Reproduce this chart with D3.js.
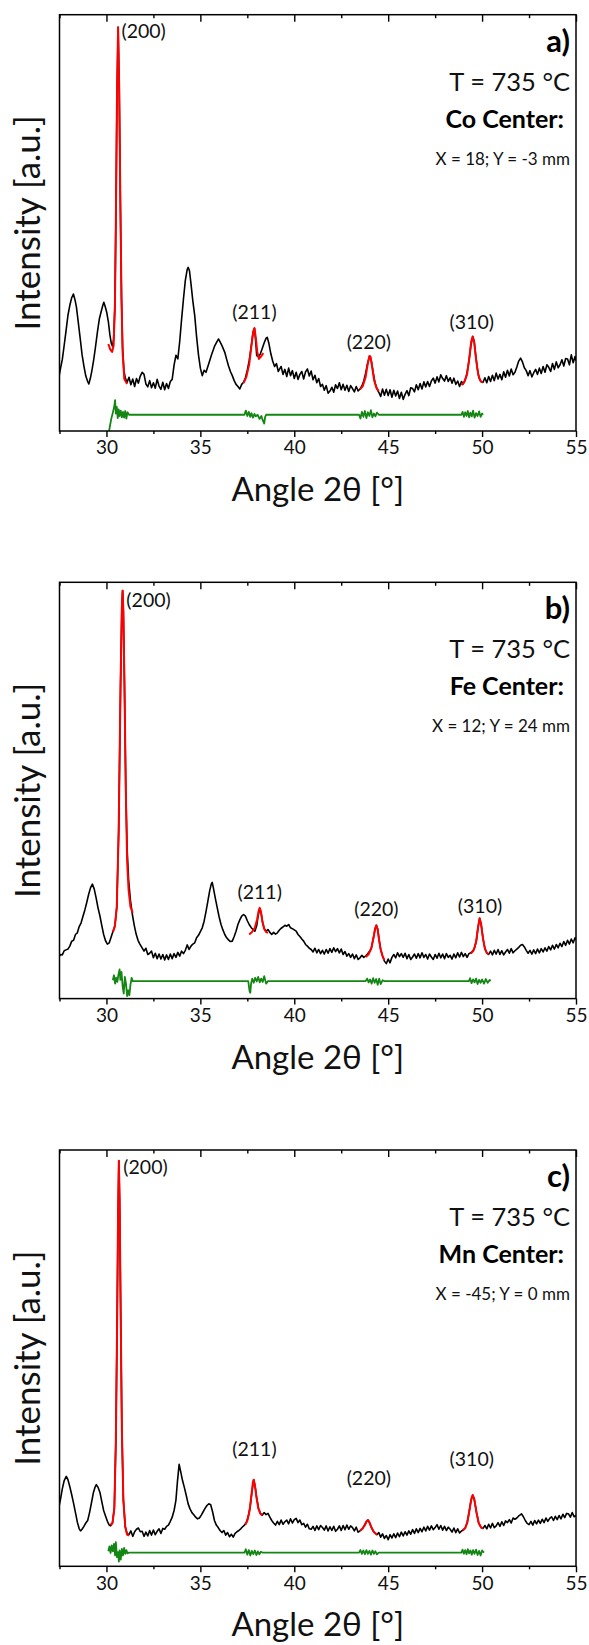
<!DOCTYPE html>
<html>
<head>
<meta charset="utf-8">
<script src="https://cdn.jsdelivr.net/npm/d3@7"></script>
<style>
  body { margin: 0; background: #fff; }
  svg { display: block; font-family: Lato, "Open Sans", sans-serif; }
</style>
</head>
<body>
<div class="chart"></div>
<script>
// x axis ticks
const majorTicks = [30, 35, 40, 45, 50, 55];
const minorTicks = [27.5, 32.5, 37.5, 42.5, 47.5, 52.5];

// panel texts
const panelTags = ["a)", "b)", "c)"];
const panelTemps = ["T = 735 °C", "T = 735 °C", "T = 735 °C"];
const panelCenters = ["Co Center:", "Fe Center:", "Mn Center:"];
const panelCoords = ["X = 18; Y = -3 mm", "X = 12; Y = 24 mm", "X = -45; Y = 0 mm"];

// peak labels [text, angle, intensity, anchor]
const labelsA = [["(200)", 30.8, 94.4, "start"], ["(211)", 37.88, 26.9, "middle"], ["(220)", 43.97, 19.7, "middle"], ["(310)", 49.45, 24.5, "middle"]];
const labelsB = [["(200)", 31.06, 94.1, "start"], ["(211)", 38.16, 23.9, "middle"], ["(220)", 44.37, 19.8, "middle"], ["(310)", 49.89, 20.6, "middle"]];
const labelsC = [["(200)", 30.9, 94.3, "start"], ["(211)", 37.88, 26.4, "middle"], ["(220)", 43.97, 19.6, "middle"], ["(310)", 49.45, 24.1, "middle"]];

// measured pattern, panel a (Co center)
const obsA = [[27.45,12.5],[27.55,14.9],[27.65,17.2],[27.75,20.6],[27.85,24.1],[27.95,27.8],[28.05,30.2],[28.15,32.0],[28.24,32.9],[28.32,31.6],[28.4,29.8],[28.5,26.1],[28.6,22.3],[28.7,18.4],[28.8,15.6],[28.9,13.2],[29.0,11.9],[29.06,11.3],[29.14,12.6],[29.22,14.4],[29.32,17.1],[29.42,20.3],[29.52,23.8],[29.62,26.9],[29.72,28.7],[29.8,30.1],[29.86,30.9],[29.94,29.8],[30.02,28.4],[30.1,26.3],[30.18,23.2],[30.26,21.0],[30.32,20.4],[30.38,22.0],[30.45,30],[30.5,50],[30.56,80],[30.62,97],[30.68,82],[30.74,55],[30.8,32],[30.86,20],[30.93,14.5],[31.0,12.8],[31.1,11.7],[31.2,12.9],[31.3,11.1],[31.4,12.5],[31.5,10.7],[31.6,12.6],[31.7,11.5],[31.8,13.2],[31.9,14.1],[32.0,13.6],[32.1,11.3],[32.2,10.6],[32.3,12.1],[32.4,10.4],[32.5,11.6],[32.6,10.3],[32.7,12.4],[32.8,10.8],[32.9,10.0],[33.0,11.7],[33.1,9.9],[33.2,11.4],[33.3,10.2],[33.4,11.9],[33.5,12.4],[33.6,15.8],[33.7,18.2],[33.8,17.3],[33.9,21.5],[34.0,26.8],[34.1,31.7],[34.2,36.2],[34.3,38.8],[34.35,39.3],[34.42,38.5],[34.5,35.4],[34.6,31.2],[34.7,27.7],[34.8,22.6],[34.9,18.3],[35.0,15.1],[35.1,13.3],[35.2,14.6],[35.3,14.1],[35.45,16.2],[35.6,18.4],[35.75,20.3],[35.9,21.6],[35.97,22.1],[36.05,21.4],[36.15,20.5],[36.3,18.9],[36.4,17.2],[36.5,15.6],[36.6,14.3],[36.7,13.3],[36.8,12.1],[36.9,11.2],[37.0,10.7],[37.1,10.1],[37.2,11.2],[37.3,11.7],[37.4,12.8],[37.5,14.6],[37.6,16.9],[37.7,20.1],[37.8,23.6],[37.88,24.7],[37.95,21.3],[38.0,18.1],[38.1,17.8],[38.2,18.6],[38.3,19.9],[38.4,21.2],[38.5,22.3],[38.56,22.5],[38.65,21.0],[38.75,18.6],[38.85,16.8],[38.95,15.5],[39.05,16.2],[39.15,14.3],[39.3,15.5],[39.4,13.6],[39.5,14.8],[39.6,13.1],[39.7,15.1],[39.8,13.3],[39.9,14.5],[40.0,12.6],[40.1,14.1],[40.2,12.4],[40.3,13.6],[40.4,14.3],[40.5,12.5],[40.6,14.2],[40.7,14.9],[40.8,13.2],[40.9,14.4],[41.0,12.3],[41.1,13.4],[41.2,11.6],[41.3,12.6],[41.4,10.7],[41.5,11.2],[41.6,9.8],[41.7,10.9],[41.8,9.1],[41.9,9.6],[42.0,10.5],[42.1,9.3],[42.2,11.1],[42.3,10.2],[42.4,11.6],[42.5,9.9],[42.6,11.2],[42.7,9.8],[42.8,11.0],[42.9,9.5],[43.0,10.9],[43.1,10.2],[43.2,9.4],[43.3,10.7],[43.4,9.6],[43.5,10.1],[43.6,10.8],[43.7,12.0],[43.8,13.9],[43.9,16.2],[44.0,17.8],[44.03,18.0],[44.1,16.9],[44.2,14.1],[44.3,11.6],[44.4,10.2],[44.5,9.3],[44.6,8.3],[44.7,10.1],[44.8,8.6],[44.9,10.0],[45.0,8.5],[45.1,9.9],[45.2,8.1],[45.3,9.8],[45.4,8.4],[45.5,9.6],[45.6,7.8],[45.7,9.3],[45.8,7.6],[45.9,8.8],[46.0,9.7],[46.1,8.5],[46.2,10.4],[46.3,10.2],[46.4,9.4],[46.5,11.1],[46.6,9.9],[46.7,11.4],[46.8,10.1],[46.9,11.8],[47.0,10.6],[47.1,11.9],[47.2,10.7],[47.3,12.0],[47.4,12.7],[47.5,11.5],[47.6,13.0],[47.7,11.8],[47.8,13.5],[47.9,12.6],[48.0,12.0],[48.1,13.3],[48.2,11.9],[48.3,12.8],[48.4,11.5],[48.5,12.7],[48.6,11.2],[48.7,12.0],[48.8,10.7],[48.9,11.9],[49.0,11.3],[49.1,12.2],[49.2,14.0],[49.3,16.8],[49.4,20.4],[49.5,22.7],[49.58,21.5],[49.66,18.2],[49.75,14.9],[49.85,12.6],[49.95,11.8],[50.05,11.7],[50.15,12.8],[50.25,11.6],[50.35,13.1],[50.45,11.9],[50.55,13.4],[50.65,12.1],[50.75,13.9],[50.85,12.5],[50.95,13.6],[51.05,12.3],[51.15,14.2],[51.25,12.9],[51.35,14.6],[51.45,13.2],[51.55,14.9],[51.65,13.5],[51.75,14.1],[51.85,15.4],[51.95,16.8],[52.05,17.5],[52.15,16.6],[52.25,15.2],[52.35,14.5],[52.45,13.3],[52.55,14.5],[52.65,13.0],[52.75,14.0],[52.85,14.8],[52.95,13.6],[53.05,15.1],[53.15,13.8],[53.25,15.5],[53.35,14.1],[53.45,15.9],[53.55,15.3],[53.65,14.3],[53.75,16.2],[53.85,14.8],[53.95,16.6],[54.05,15.2],[54.15,15.9],[54.25,17.1],[54.35,15.6],[54.45,17.4],[54.55,17.3],[54.65,15.9],[54.75,18.3],[54.85,16.4],[54.95,17.9],[55.0,16.9]];

// fitted peaks, panel a
const fitA = [
  [[30.1,20.9],[30.2,19.6],[30.3,19.0],[30.38,20.5],[30.45,30],[30.5,50],[30.56,80],[30.62,97],[30.68,82],[30.74,55],[30.8,32],[30.86,19],[30.95,12.5],[31.1,11.3]],
  [[37.3,11.5],[37.45,13.0],[37.6,16.0],[37.72,20.5],[37.82,24.0],[37.88,24.7],[37.95,22.5],[38.03,19.0],[38.12,17.3],[38.25,18.0],[38.35,18.7]],
  [[43.5,10.0],[43.65,10.8],[43.8,13.0],[43.92,16.3],[44.0,18.0],[44.06,17.8],[44.14,15.6],[44.25,12.2],[44.38,10.3],[44.5,9.6]],
  [[48.9,11.0],[49.05,11.8],[49.2,13.6],[49.32,17.5],[49.42,21.5],[49.5,22.7],[49.58,21.3],[49.68,17.2],[49.8,13.4],[49.92,12.0],[50.05,11.6]]
];

// residual, panel a
const resA = [[30.14,0],[30.25,2.8],[30.35,4.6],[30.42,6.0],[30.46,7.4],[30.5,4.2],[30.55,5.8],[30.6,3.1],[30.65,5.2],[30.7,3.6],[30.76,4.9],[30.82,3.3],[30.88,4.6],[30.94,3.2],[31.0,4.8],[31.06,3.0],[31.12,4.5],[31.2,3.9],[37.35,3.9],[37.42,4.9],[37.5,3.6],[37.58,4.6],[37.65,3.4],[37.72,4.3],[37.8,3.2],[37.88,4.1],[37.95,3.5],[38.05,3.9],[38.15,2.9],[38.25,3.6],[38.32,2.6],[38.4,1.8],[38.45,3.4],[38.5,3.9],[43.45,3.9],[43.52,3.0],[43.6,4.6],[43.68,3.4],[43.76,4.8],[43.84,3.1],[43.92,4.5],[44.0,3.6],[44.08,5.0],[44.16,3.3],[44.24,4.2],[44.32,3.5],[44.4,4.4],[44.5,3.9],[48.9,3.9],[48.96,4.6],[49.03,3.4],[49.1,4.5],[49.17,3.6],[49.24,4.8],[49.31,3.3],[49.38,4.4],[49.45,3.5],[49.52,4.9],[49.6,3.2],[49.68,4.3],[49.76,3.6],[49.84,4.7],[49.92,3.4],[50.0,4.2],[50.05,3.9]];

// measured pattern, panel b (Fe center)
const obsB = [[27.45,9.8],[27.55,10.6],[27.65,10.5],[27.75,11.5],[27.85,11.7],[27.95,11.9],[28.05,12.6],[28.15,13.8],[28.25,14.0],[28.35,15.4],[28.45,15.8],[28.55,17.3],[28.65,18.2],[28.75,19.8],[28.85,21.3],[28.95,23.1],[29.05,25.0],[29.15,26.6],[29.25,27.5],[29.35,26.3],[29.45,24.2],[29.55,21.8],[29.65,19.9],[29.75,17.6],[29.85,15.4],[29.95,13.9],[30.05,13.1],[30.15,13.4],[30.25,14.8],[30.35,16.2],[30.45,17.5],[30.55,22],[30.65,40],[30.75,75],[30.82,94],[30.86,98],[30.9,93],[30.96,75],[31.03,50],[31.1,36],[31.18,28.5],[31.28,23.5],[31.38,20.2],[31.48,17.6],[31.58,15.5],[31.68,14.0],[31.78,13.1],[31.9,12.2],[32.0,11.4],[32.1,12.1],[32.2,10.6],[32.3,10.9],[32.4,11.4],[32.5,9.8],[32.6,10.9],[32.7,9.6],[32.8,10.7],[32.9,9.5],[33.0,10.6],[33.1,9.3],[33.2,10.5],[33.3,9.4],[33.4,10.7],[33.5,9.6],[33.6,10.8],[33.7,9.9],[33.8,11.1],[33.9,10.2],[34.0,11.4],[34.1,10.8],[34.2,11.6],[34.3,12.9],[34.4,11.8],[34.5,12.6],[34.6,13.1],[34.7,13.4],[34.8,14.6],[34.9,15.2],[35.0,16.1],[35.1,17.0],[35.2,18.6],[35.3,20.9],[35.4,23.4],[35.5,26.0],[35.58,27.5],[35.63,27.9],[35.7,26.4],[35.8,24.0],[35.9,21.8],[36.0,19.6],[36.1,17.8],[36.2,16.5],[36.3,15.4],[36.4,14.6],[36.5,14.1],[36.6,13.7],[36.7,13.8],[36.8,14.9],[36.9,16.2],[37.0,17.8],[37.1,18.9],[37.2,19.8],[37.3,20.2],[37.4,19.8],[37.5,18.7],[37.6,17.8],[37.7,17.1],[37.8,16.6],[37.9,16.2],[38.0,17.5],[38.08,20.0],[38.16,21.6],[38.24,20.4],[38.32,18.2],[38.4,16.8],[38.5,16.2],[38.6,16.6],[38.7,15.9],[38.8,15.4],[38.9,15.9],[39.0,15.5],[39.1,15.8],[39.2,16.4],[39.3,16.9],[39.4,17.2],[39.5,17.6],[39.6,17.4],[39.7,17.8],[39.8,17.0],[39.9,16.8],[40.0,16.5],[40.1,16.2],[40.2,15.4],[40.3,14.9],[40.4,14.3],[40.5,13.8],[40.6,13.0],[40.7,12.6],[40.8,12.1],[40.9,11.8],[41.0,11.2],[41.1,12.1],[41.2,11.0],[41.3,11.8],[41.4,10.8],[41.5,11.6],[41.6,10.7],[41.7,11.8],[41.8,10.9],[41.9,12.0],[42.0,11.1],[42.1,12.2],[42.2,11.3],[42.3,12.0],[42.4,11.0],[42.5,11.9],[42.6,10.6],[42.7,11.3],[42.8,10.2],[42.9,10.8],[43.0,9.9],[43.1,10.7],[43.2,9.6],[43.3,10.5],[43.4,9.4],[43.5,9.8],[43.6,10.4],[43.7,9.9],[43.8,10.2],[43.9,10.7],[44.0,11.3],[44.1,12.1],[44.2,14.3],[44.3,16.6],[44.37,17.6],[44.44,16.7],[44.52,14.0],[44.6,11.8],[44.7,10.3],[44.8,9.0],[44.9,8.4],[45.0,9.5],[45.1,8.6],[45.2,9.9],[45.3,10.6],[45.4,9.8],[45.5,11.0],[45.6,10.1],[45.7,10.8],[45.8,9.9],[45.9,10.9],[46.0,9.6],[46.1,10.6],[46.2,9.4],[46.3,10.0],[46.4,10.7],[46.5,9.7],[46.6,10.8],[46.7,9.8],[46.8,11.0],[46.9,9.9],[47.0,10.6],[47.1,9.5],[47.2,10.7],[47.3,10.0],[47.4,9.4],[47.5,10.6],[47.6,9.7],[47.7,10.9],[47.8,9.8],[47.9,10.7],[48.0,9.6],[48.1,10.8],[48.2,9.9],[48.3,10.4],[48.4,9.5],[48.5,10.7],[48.6,9.8],[48.7,11.0],[48.8,10.0],[48.9,11.1],[49.0,10.1],[49.1,10.8],[49.2,9.9],[49.3,10.8],[49.4,11.0],[49.5,11.4],[49.6,12.2],[49.7,14.0],[49.78,17.0],[49.87,19.3],[49.95,17.8],[50.05,14.4],[50.15,12.0],[50.25,11.0],[50.35,10.6],[50.45,11.4],[50.55,10.5],[50.65,11.6],[50.75,10.7],[50.85,11.8],[50.95,10.6],[51.05,11.5],[51.15,10.5],[51.25,11.2],[51.35,11.8],[51.45,10.9],[51.55,12.0],[51.65,11.0],[51.75,11.5],[51.85,11.9],[51.95,12.3],[52.05,12.8],[52.15,13.0],[52.25,12.4],[52.35,11.6],[52.45,10.9],[52.55,11.6],[52.65,10.7],[52.75,11.7],[52.85,10.8],[52.95,11.9],[53.05,11.0],[53.15,12.0],[53.25,11.2],[53.35,12.2],[53.45,11.4],[53.55,12.5],[53.65,11.7],[53.75,12.8],[53.85,11.9],[53.95,13.0],[54.05,12.2],[54.15,13.3],[54.25,12.5],[54.35,13.7],[54.45,12.8],[54.55,14.0],[54.65,13.1],[54.75,14.3],[54.85,13.4],[54.95,14.6],[55.0,14.2]];

const fitB = [
  [[30.35,16.0],[30.45,17.4],[30.55,22],[30.65,40],[30.75,75],[30.82,94],[30.86,98],[30.9,93],[30.96,75],[31.03,50],[31.1,33],[31.18,26],[31.28,22],[31.4,20.6]],
  [[37.6,15.4],[37.75,16.0],[37.9,17.0],[38.02,19.0],[38.1,21.0],[38.16,21.8],[38.22,21.0],[38.3,18.6],[38.4,16.8],[38.5,16.0],[38.6,15.8]],
  [[43.8,10.0],[43.95,10.6],[44.1,12.0],[44.22,14.6],[44.3,16.8],[44.37,17.6],[44.44,16.6],[44.52,14.0],[44.6,11.8],[44.7,10.2],[44.8,9.2]],
  [[49.4,10.8],[49.55,11.6],[49.68,13.6],[49.78,17.0],[49.87,19.3],[49.95,17.8],[50.05,14.4],[50.15,12.0],[50.25,11.0],[50.35,10.6]]
];

const resB = [[30.34,4.4],[30.4,5.6],[30.46,3.6],[30.52,5.0],[30.58,4.0],[30.64,5.8],[30.7,7.0],[30.74,4.5],[30.8,6.4],[30.86,3.0],[30.92,1.2],[30.98,5.2],[31.04,3.6],[31.1,0.6],[31.16,2.0],[31.22,0.8],[31.28,3.4],[31.34,5.0],[31.4,4.2],[37.55,4.2],[37.62,1.8],[37.66,1.4],[37.7,3.6],[37.76,4.8],[37.84,3.8],[37.92,5.0],[38.0,4.1],[38.08,5.2],[38.16,3.9],[38.24,4.8],[38.32,4.0],[38.4,5.4],[38.5,3.6],[38.6,4.2],[43.8,4.2],[43.88,4.8],[43.96,3.9],[44.04,4.6],[44.12,3.6],[44.2,4.9],[44.28,3.8],[44.36,4.7],[44.44,3.3],[44.52,4.8],[44.6,3.5],[44.7,4.4],[44.8,4.2],[49.3,4.2],[49.36,4.9],[49.44,3.7],[49.52,4.6],[49.6,3.9],[49.68,4.8],[49.76,3.5],[49.84,4.5],[49.92,3.8],[50.0,4.6],[50.1,3.6],[50.2,4.7],[50.3,3.8],[50.4,4.5],[50.45,4.2]];

// measured pattern, panel c (Mn center)
const obsC = [[27.45,13.8],[27.55,16.0],[27.65,18.6],[27.75,20.6],[27.86,21.6],[27.95,20.8],[28.05,19.1],[28.15,17.2],[28.25,15.1],[28.35,12.9],[28.45,10.6],[28.55,9.0],[28.62,8.5],[28.7,8.9],[28.8,9.6],[28.9,10.4],[29.0,11.0],[29.1,12.9],[29.2,15.2],[29.3,17.6],[29.4,19.1],[29.46,19.6],[29.55,19.0],[29.65,17.8],[29.75,15.6],[29.85,13.4],[29.95,12.1],[30.05,10.8],[30.15,9.9],[30.22,9.7],[30.32,10.4],[30.42,14],[30.5,30],[30.56,55],[30.62,85],[30.66,97.4],[30.7,88],[30.76,60],[30.82,33],[30.9,16],[31.0,9.5],[31.1,7.8],[31.2,7.6],[31.3,8.5],[31.4,7.2],[31.5,8.3],[31.6,8.9],[31.7,9.2],[31.8,8.3],[31.9,8.4],[32.0,7.2],[32.1,8.2],[32.2,7.3],[32.3,8.6],[32.4,7.5],[32.5,8.7],[32.6,7.6],[32.7,8.4],[32.8,9.0],[32.9,7.9],[33.0,9.1],[33.1,8.9],[33.2,9.6],[33.3,9.9],[33.4,10.8],[33.5,11.8],[33.6,13.4],[33.7,15.9],[33.78,20.4],[33.87,24.5],[33.95,22.8],[34.05,20.6],[34.15,18.9],[34.25,17.0],[34.35,15.0],[34.45,13.8],[34.55,12.9],[34.65,12.4],[34.75,11.8],[34.85,11.4],[34.95,11.6],[35.05,12.3],[35.15,13.1],[35.25,13.9],[35.35,14.6],[35.45,15.0],[35.55,14.8],[35.65,13.1],[35.75,11.0],[35.85,9.9],[35.95,9.3],[36.05,8.6],[36.15,8.1],[36.25,8.6],[36.35,7.5],[36.45,8.1],[36.55,7.1],[36.65,7.7],[36.75,7.0],[36.85,7.9],[36.95,8.3],[37.05,8.6],[37.15,9.0],[37.25,9.5],[37.35,9.9],[37.45,10.5],[37.55,12.0],[37.65,14.2],[37.75,18.0],[37.84,20.8],[37.92,19.0],[38.0,16.4],[38.1,13.9],[38.2,12.7],[38.3,12.3],[38.4,12.9],[38.5,12.4],[38.6,12.7],[38.7,11.8],[38.8,11.0],[38.9,10.4],[39.0,9.9],[39.1,10.8],[39.2,10.0],[39.3,11.1],[39.4,10.1],[39.5,10.7],[39.6,11.1],[39.7,10.2],[39.8,11.4],[39.9,10.4],[40.0,11.2],[40.1,11.5],[40.2,10.5],[40.3,11.1],[40.4,10.0],[40.5,10.3],[40.6,9.4],[40.7,10.1],[40.8,9.0],[40.9,8.9],[41.0,9.6],[41.1,8.6],[41.2,9.7],[41.3,8.8],[41.4,9.8],[41.5,9.3],[41.6,8.7],[41.7,9.7],[41.8,8.5],[41.9,9.5],[42.0,8.6],[42.1,9.6],[42.2,8.4],[42.3,8.9],[42.4,9.7],[42.5,8.6],[42.6,9.8],[42.7,8.8],[42.8,9.9],[42.9,8.9],[43.0,9.7],[43.1,9.3],[43.2,8.5],[43.3,9.4],[43.4,8.2],[43.5,8.5],[43.6,8.9],[43.7,9.6],[43.8,10.4],[43.88,11.0],[43.93,11.1],[44.0,10.5],[44.1,9.4],[44.2,8.5],[44.3,8.0],[44.4,7.6],[44.5,8.1],[44.6,7.0],[44.7,7.8],[44.8,6.7],[44.9,7.4],[45.0,6.4],[45.1,7.6],[45.2,6.8],[45.3,7.8],[45.4,6.9],[45.5,8.0],[45.6,7.1],[45.7,8.2],[45.8,7.3],[45.9,8.3],[46.0,7.5],[46.1,8.5],[46.2,7.7],[46.3,8.8],[46.4,7.9],[46.5,9.0],[46.6,8.1],[46.7,9.1],[46.8,8.3],[46.9,9.4],[47.0,8.5],[47.1,9.6],[47.2,8.7],[47.3,9.7],[47.4,8.8],[47.5,9.3],[47.6,10.0],[47.7,8.9],[47.8,9.8],[47.9,8.7],[48.0,9.6],[48.1,8.6],[48.2,9.4],[48.3,8.9],[48.4,8.2],[48.5,9.2],[48.6,8.1],[48.7,9.0],[48.8,8.0],[48.9,8.5],[49.0,8.7],[49.1,9.2],[49.2,10.4],[49.3,12.8],[49.4,15.6],[49.5,17.1],[49.58,16.2],[49.7,13.0],[49.82,10.4],[49.95,9.3],[50.05,9.1],[50.15,9.8],[50.25,9.0],[50.35,10.1],[50.45,9.2],[50.55,10.3],[50.65,9.3],[50.75,9.7],[50.85,10.5],[50.95,9.6],[51.05,10.7],[51.15,9.8],[51.25,10.9],[51.35,10.5],[51.45,11.2],[51.55,10.4],[51.65,11.6],[51.75,11.3],[51.85,11.6],[51.95,12.1],[52.05,12.4],[52.1,12.6],[52.2,11.9],[52.3,11.0],[52.4,10.3],[52.5,10.0],[52.6,10.8],[52.7,9.9],[52.8,11.0],[52.9,10.2],[53.0,11.1],[53.1,10.3],[53.2,11.3],[53.3,10.5],[53.4,11.6],[53.5,10.8],[53.6,11.5],[53.7,11.9],[53.8,11.0],[53.9,12.0],[54.0,11.2],[54.1,12.2],[54.2,11.4],[54.3,12.5],[54.4,11.7],[54.5,12.7],[54.6,12.6],[54.7,11.8],[54.8,12.9],[54.9,11.9],[55.0,12.2]];

const fitC = [
  [[30.2,9.9],[30.32,10.4],[30.42,14],[30.5,30],[30.56,55],[30.62,85],[30.66,97.4],[30.7,88],[30.76,60],[30.82,33],[30.9,16],[31.0,9.5],[31.1,7.6],[31.2,7.4]],
  [[37.4,10.0],[37.52,11.2],[37.62,13.4],[37.72,17.2],[37.8,20.2],[37.84,20.8],[37.9,19.6],[37.98,16.8],[38.08,14.0],[38.2,12.6],[38.3,12.2]],
  [[43.5,8.6],[43.62,9.0],[43.75,9.8],[43.85,10.8],[43.93,11.1],[44.02,10.4],[44.12,9.2],[44.25,8.2],[44.4,7.6]],
  [[48.96,8.6],[49.1,9.2],[49.22,10.6],[49.34,13.8],[49.44,16.5],[49.5,17.1],[49.58,16.2],[49.7,13.0],[49.82,10.4],[49.95,9.3],[50.05,9.1]]
];

const resC = [[30.1,3.6],[30.16,4.8],[30.22,3.2],[30.28,5.0],[30.34,3.6],[30.4,5.4],[30.46,2.6],[30.5,5.8],[30.56,2.2],[30.62,3.4],[30.66,1.1],[30.7,3.8],[30.76,1.6],[30.82,4.2],[30.88,2.6],[30.94,4.4],[31.0,3.0],[31.06,3.9],[31.12,3.1],[31.2,3.3],[37.35,3.3],[37.42,4.1],[37.5,2.8],[37.58,3.9],[37.66,2.6],[37.74,3.7],[37.82,2.9],[37.9,3.8],[37.98,2.7],[38.06,3.6],[38.14,2.9],[38.22,3.5],[38.3,3.3],[43.45,3.3],[43.52,3.9],[43.6,3.0],[43.68,3.8],[43.76,2.9],[43.84,3.9],[43.92,3.0],[44.0,3.7],[44.08,2.8],[44.16,3.8],[44.24,3.0],[44.32,3.6],[44.4,2.9],[44.5,3.3],[48.9,3.3],[48.96,4.0],[49.03,3.0],[49.1,3.9],[49.17,2.9],[49.24,4.1],[49.31,3.1],[49.38,3.8],[49.45,2.8],[49.52,3.9],[49.6,3.0],[49.68,4.0],[49.76,2.7],[49.84,3.7],[49.92,2.6],[50.0,3.8],[50.1,3.3]];

const panels = [
  { obs: obsA, fit: fitA, res: resA, labels: labelsA, top: 14.7 },
  { obs: obsB, fit: fitB, res: resB, labels: labelsB, top: 582.3 },
  { obs: obsC, fit: fitC, res: resC, labels: labelsC, top: 1150 }
];

const width = 589, height = 1645;
const left = 59.5, right = 576, ph = 416.3;

const svg = d3.select(".chart").append("svg")
  .attr("width", width)
  .attr("height", height);

const x = d3.scaleLinear().domain([27.5, 55]).range([left, right]);

panels.forEach((p, i) => {
  const bottom = p.top + ph;
  const y = d3.scaleLinear().domain([0, 100]).range([bottom, p.top]);
  const g = svg.append("g");

  const line = d3.line().x(d => x(d[0])).y(d => y(d[1]));

  // clip so nothing leaves the frame
  g.append("clipPath").attr("id", "clip" + i)
    .append("rect").attr("x", left).attr("y", p.top).attr("width", right - left).attr("height", ph);
  const plot = g.append("g").attr("clip-path", `url(#clip${i})`);

  plot.append("path")
    .datum(p.res)
    .attr("fill", "none")
    .attr("stroke", "#138613")
    .attr("stroke-width", 1.8)
    .attr("stroke-linejoin", "round")
    .attr("d", line);

  plot.append("path")
    .datum(p.obs)
    .attr("fill", "none")
    .attr("stroke", "#000")
    .attr("stroke-width", 1.6)
    .attr("stroke-linejoin", "round")
    .attr("d", line);

  plot.selectAll(".fit")
    .data(p.fit)
    .join("path")
    .attr("class", "fit")
    .attr("fill", "none")
    .attr("stroke", "#ff0000")
    .attr("stroke-width", 2)
    .attr("stroke-linejoin", "round")
    .attr("d", line);

  // axes
  const axB = g.append("g").attr("transform", `translate(0,${bottom})`)
    .call(d3.axisBottom(x).tickValues(majorTicks).tickSize(6).tickPadding(4).tickFormat(d3.format("d")));
  const axBm = g.append("g").attr("transform", `translate(0,${bottom})`)
    .call(d3.axisBottom(x).tickValues(minorTicks).tickSize(3).tickFormat(""));
  const axT = g.append("g").attr("transform", `translate(0,${p.top})`)
    .call(d3.axisTop(x).tickValues(majorTicks).tickSize(-7).tickFormat(""));
  const axTm = g.append("g").attr("transform", `translate(0,${p.top})`)
    .call(d3.axisTop(x).tickValues(minorTicks).tickSize(-3.5).tickFormat(""));
  [axB, axBm, axT, axTm].forEach(a => {
    a.select(".domain").remove();
    a.selectAll("line").attr("stroke", "#000").attr("stroke-width", 1.4);
  });
  axB.selectAll("text")
    .attr("font-family", "Lato, 'Open Sans', sans-serif")
    .attr("font-size", 19)
    .attr("fill", "#111");

  g.append("rect")
    .attr("x", left).attr("y", p.top)
    .attr("width", right - left).attr("height", ph)
    .attr("fill", "none")
    .attr("stroke", "#000")
    .attr("stroke-width", 1.5);

  // axis titles
  g.append("text")
    .attr("x", (left + right) / 2)
    .attr("y", bottom + 70)
    .attr("text-anchor", "middle")
    .attr("font-size", 33)
    .attr("fill", "#111")
    .text("Angle 2θ [°]");

  g.append("text")
    .attr("transform", `translate(40,${(p.top + bottom) / 2}) rotate(-90)`)
    .attr("text-anchor", "middle")
    .attr("font-size", 35)
    .attr("fill", "#111")
    .text("Intensity [a.u.]");

  // peak labels
  g.selectAll(".hkl")
    .data(p.labels)
    .join("text")
    .attr("class", "hkl")
    .attr("x", d => x(d[1]))
    .attr("y", d => y(d[2]))
    .attr("text-anchor", d => d[3])
    .attr("font-size", 19.5)
    .attr("fill", "#111")
    .text(d => d[0]);

  // corner texts
  g.append("text").attr("x", 570).attr("y", p.top + 37)
    .attr("text-anchor", "end").attr("font-size", 31).attr("font-weight", "bold")
    .text(panelTags[i]);
  g.append("text").attr("x", 570).attr("y", p.top + 76)
    .attr("text-anchor", "end").attr("font-size", 25.5).attr("fill", "#111")
    .text(panelTemps[i]);
  g.append("text").attr("x", 564).attr("y", p.top + 113)
    .attr("text-anchor", "end").attr("font-size", 25).attr("font-weight", "bold")
    .text(panelCenters[i]);
  g.append("text").attr("x", 570).attr("y", p.top + 150)
    .attr("text-anchor", "end").attr("font-size", 17).attr("fill", "#111")
    .text(panelCoords[i]);
});
</script>
</body>
</html>
